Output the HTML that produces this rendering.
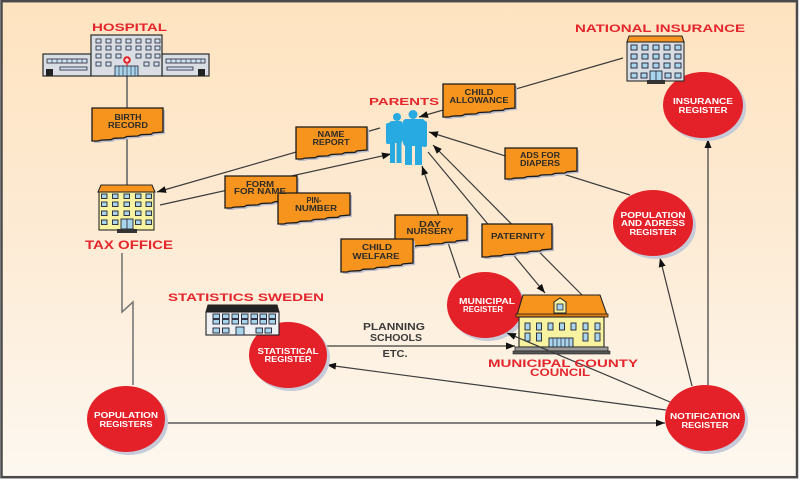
<!DOCTYPE html>
<html><head><meta charset="utf-8"><style>html,body{margin:0;padding:0;background:#fff;}svg{display:block}</style></head>
<body>
<svg width="800" height="480" viewBox="0 0 800 480" xmlns="http://www.w3.org/2000/svg" font-family="'Liberation Sans', sans-serif">
<defs>
<linearGradient id="bg" x1="0" y1="0" x2="0" y2="1">
<stop offset="0" stop-color="#fee3bf"/><stop offset="0.5" stop-color="#fdebd5"/><stop offset="1" stop-color="#fdf8f0"/>
</linearGradient>
<marker id="ar" markerWidth="9" markerHeight="7" refX="9" refY="3.5" orient="auto" markerUnits="userSpaceOnUse"><path d="M0,0 L9,3.5 L0,7 Z" fill="#111" stroke="none"/></marker>
</defs>
<rect x="0" y="0" width="800" height="480" fill="#fff"/>
<rect x="1.5" y="1.2" width="795.5" height="476" fill="url(#bg)" stroke="#4a4a4a" stroke-width="2.5"/>

<!-- connectors -->
<g stroke="#3c3c3c" stroke-width="1.2" fill="none">
<line x1="127" y1="76" x2="127" y2="185" stroke="#666" stroke-width="1.6"/>
<polyline points="122,253 122,312 133,302 133,385" stroke="#777" stroke-width="1.6"/>
<line x1="166" y1="423" x2="665" y2="423" marker-end="url(#ar)"/>
<line x1="708" y1="385" x2="708" y2="139" marker-end="url(#ar)"/>
<line x1="692" y1="386" x2="660" y2="258" marker-end="url(#ar)"/>
<line x1="630" y1="195" x2="429" y2="132" marker-end="url(#ar)"/>
<line x1="623" y1="58" x2="419" y2="117" marker-end="url(#ar)"/>
<line x1="380" y1="128" x2="157" y2="192" marker-end="url(#ar)"/>
<line x1="160" y1="205" x2="391" y2="154" marker-end="url(#ar)"/>
<line x1="460" y1="278" x2="422" y2="166" marker-end="url(#ar)"/>
<line x1="582" y1="295" x2="433" y2="145" marker-end="url(#ar)"/>
<line x1="428" y1="152" x2="545" y2="293" marker-end="url(#ar)"/>
<line x1="666" y1="410" x2="327" y2="365" marker-end="url(#ar)"/>
<line x1="327" y1="346" x2="515" y2="346" marker-end="url(#ar)"/>
</g>

<!-- document boxes -->
<g>
<g transform="translate(92,108)"><path transform="translate(2,2)" d="M0,0 H71 V24 L61,24.9 L59,26.3 L49,26.7 L46,28 L35,28.5 L32,29.9 L22,30.3 L19,31.7 L9,32.1 L6,33 L0,33 Z" fill="#bcbccb"/><path d="M0,0 H71 V24 L61,24.9 L59,26.3 L49,26.7 L46,28 L35,28.5 L32,29.9 L22,30.3 L19,31.7 L9,32.1 L6,33 L0,33 Z" fill="#f7941d" stroke="#1a1a1a" stroke-width="1.3"/></g>
<g transform="translate(443,84)"><path transform="translate(2,2)" d="M0,0 H72 V24 L62,24.9 L60,26.3 L50,26.7 L47,28 L36,28.5 L33,29.9 L22,30.3 L19,31.7 L9,32.1 L6,33 L0,33 Z" fill="#bcbccb"/><path d="M0,0 H72 V24 L62,24.9 L60,26.3 L50,26.7 L47,28 L36,28.5 L33,29.9 L22,30.3 L19,31.7 L9,32.1 L6,33 L0,33 Z" fill="#f7941d" stroke="#1a1a1a" stroke-width="1.3"/></g>
<g transform="translate(296,127)"><path transform="translate(2,2)" d="M0,0 H71 V23 L61,23.9 L59,25.3 L49,25.7 L46,27 L35,27.5 L32,28.9 L22,29.3 L19,30.7 L9,31.1 L6,32 L0,32 Z" fill="#bcbccb"/><path d="M0,0 H71 V23 L61,23.9 L59,25.3 L49,25.7 L46,27 L35,27.5 L32,28.9 L22,29.3 L19,30.7 L9,31.1 L6,32 L0,32 Z" fill="#f7941d" stroke="#1a1a1a" stroke-width="1.3"/></g>
<g transform="translate(505,148)"><path transform="translate(2,2)" d="M0,0 H72 V23 L62,23.8 L60,25 L50,25.4 L47,26.6 L36,27 L33,28.2 L22,28.6 L19,29.8 L9,30.2 L6,31 L0,31 Z" fill="#bcbccb"/><path d="M0,0 H72 V23 L62,23.8 L60,25 L50,25.4 L47,26.6 L36,27 L33,28.2 L22,28.6 L19,29.8 L9,30.2 L6,31 L0,31 Z" fill="#f7941d" stroke="#1a1a1a" stroke-width="1.3"/></g>
<g transform="translate(225,176)"><path transform="translate(2,2)" d="M0,0 H72 V23 L62,23.9 L60,25.3 L50,25.7 L47,27 L36,27.5 L33,28.9 L22,29.3 L19,30.7 L9,31.1 L6,32 L0,32 Z" fill="#bcbccb"/><path d="M0,0 H72 V23 L62,23.9 L60,25.3 L50,25.7 L47,27 L36,27.5 L33,28.9 L22,29.3 L19,30.7 L9,31.1 L6,32 L0,32 Z" fill="#f7941d" stroke="#1a1a1a" stroke-width="1.3"/></g>
<g transform="translate(278,193)"><path transform="translate(2,2)" d="M0,0 H72 V22 L62,22.9 L60,24.3 L50,24.7 L47,26 L36,26.5 L33,27.9 L22,28.3 L19,29.7 L9,30.1 L6,31 L0,31 Z" fill="#bcbccb"/><path d="M0,0 H72 V22 L62,22.9 L60,24.3 L50,24.7 L47,26 L36,26.5 L33,27.9 L22,28.3 L19,29.7 L9,30.1 L6,31 L0,31 Z" fill="#f7941d" stroke="#1a1a1a" stroke-width="1.3"/></g>
<g transform="translate(395,215)"><path transform="translate(2,2)" d="M0,0 H72 V25 L62,25.8 L60,27 L50,27.4 L47,28.6 L36,29 L33,30.2 L22,30.6 L19,31.8 L9,32.2 L6,33 L0,33 Z" fill="#bcbccb"/><path d="M0,0 H72 V25 L62,25.8 L60,27 L50,27.4 L47,28.6 L36,29 L33,30.2 L22,30.6 L19,31.8 L9,32.2 L6,33 L0,33 Z" fill="#f7941d" stroke="#1a1a1a" stroke-width="1.3"/></g>
<g transform="translate(341,239)"><path transform="translate(2,2)" d="M0,0 H72 V24 L62,24.9 L60,26.3 L50,26.7 L47,28 L36,28.5 L33,29.9 L22,30.3 L19,31.7 L9,32.1 L6,33 L0,33 Z" fill="#bcbccb"/><path d="M0,0 H72 V24 L62,24.9 L60,26.3 L50,26.7 L47,28 L36,28.5 L33,29.9 L22,30.3 L19,31.7 L9,32.1 L6,33 L0,33 Z" fill="#f7941d" stroke="#1a1a1a" stroke-width="1.3"/></g>
<g transform="translate(482,224)"><path transform="translate(2,2)" d="M0,0 H70 V25 L60,25.8 L58,27 L48,27.4 L45,28.6 L35,29 L32,30.2 L22,30.6 L19,31.8 L9,32.2 L6,33 L0,33 Z" fill="#bcbccb"/><path d="M0,0 H70 V25 L60,25.8 L58,27 L48,27.4 L45,28.6 L35,29 L32,30.2 L22,30.6 L19,31.8 L9,32.2 L6,33 L0,33 Z" fill="#f7941d" stroke="#1a1a1a" stroke-width="1.3"/></g>
</g>

<!-- box texts -->
<g font-size="8" font-weight="bold" fill="#2b2b2b" text-anchor="middle" lengthAdjust="spacingAndGlyphs">
<text x="128" y="120" textLength="27" lengthAdjust="spacingAndGlyphs">BIRTH</text>
<text x="128" y="128" textLength="40" lengthAdjust="spacingAndGlyphs">RECORD</text>
<text x="479" y="95" textLength="29" lengthAdjust="spacingAndGlyphs">CHILD</text>
<text x="479" y="103" textLength="59" lengthAdjust="spacingAndGlyphs">ALLOWANCE</text>
<text x="331" y="137" textLength="27" lengthAdjust="spacingAndGlyphs">NAME</text>
<text x="331" y="145" textLength="37" lengthAdjust="spacingAndGlyphs">REPORT</text>
<text x="540" y="158" textLength="40" lengthAdjust="spacingAndGlyphs">ADS FOR</text>
<text x="540" y="166" textLength="40" lengthAdjust="spacingAndGlyphs">DIAPERS</text>
<text x="260" y="187" textLength="28" lengthAdjust="spacingAndGlyphs">FORM</text>
<text x="260" y="194" textLength="52" lengthAdjust="spacingAndGlyphs">FOR NAME</text>
<text x="314" y="203" textLength="15" lengthAdjust="spacingAndGlyphs">PIN-</text>
<text x="316" y="211" textLength="42" lengthAdjust="spacingAndGlyphs">NUMBER</text>
<text x="430" y="227" textLength="22" lengthAdjust="spacingAndGlyphs">DAY</text>
<text x="430" y="234" textLength="47" lengthAdjust="spacingAndGlyphs">NURSERY</text>
<text x="377" y="250" textLength="30" lengthAdjust="spacingAndGlyphs">CHILD</text>
<text x="376" y="259" textLength="47" lengthAdjust="spacingAndGlyphs">WELFARE</text>
<text x="518" y="239" textLength="54" lengthAdjust="spacingAndGlyphs">PATERNITY</text>
</g>

<!-- planning text -->
<g font-size="10" font-weight="bold" fill="#3a3a3a" text-anchor="middle">
<text x="394" y="330" textLength="62" lengthAdjust="spacingAndGlyphs">PLANNING</text>
<text x="396" y="341" textLength="52" lengthAdjust="spacingAndGlyphs">SCHOOLS</text>
<text x="395" y="357" textLength="25" lengthAdjust="spacingAndGlyphs">ETC.</text>
</g>

<!-- circles -->
<g>
<ellipse cx="706" cy="108" rx="40" ry="33" fill="#c7cad9"/><ellipse cx="703" cy="105" rx="40" ry="33" fill="#e42128"/>
<ellipse cx="656" cy="226" rx="40" ry="33" fill="#c7cad9"/><ellipse cx="653" cy="223" rx="40" ry="33" fill="#e42128"/>
<ellipse cx="708" cy="421" rx="40" ry="33" fill="#c7cad9"/><ellipse cx="705" cy="418" rx="40" ry="33" fill="#e42128"/>
<ellipse cx="129" cy="422" rx="39" ry="33" fill="#c7cad9"/><ellipse cx="126" cy="419" rx="39" ry="33" fill="#e42128"/>
<ellipse cx="291" cy="358" rx="39" ry="33" fill="#c7cad9"/><ellipse cx="288" cy="355" rx="39" ry="33" fill="#e42128"/>
<ellipse cx="488" cy="308" rx="38" ry="33" fill="#c7cad9"/><ellipse cx="485" cy="305" rx="38" ry="33" fill="#e42128"/>
</g>
<g font-size="8" font-weight="bold" fill="#ffffff" text-anchor="middle">
<text x="703" y="104" textLength="60" lengthAdjust="spacingAndGlyphs">INSURANCE</text>
<text x="703" y="113" textLength="49" lengthAdjust="spacingAndGlyphs">REGISTER</text>
<text x="653" y="218" textLength="65" lengthAdjust="spacingAndGlyphs">POPULATION</text>
<text x="653" y="226" textLength="64" lengthAdjust="spacingAndGlyphs">AND ADRESS</text>
<text x="653" y="235" textLength="47" lengthAdjust="spacingAndGlyphs">REGISTER</text>
<text x="705" y="419" textLength="70" lengthAdjust="spacingAndGlyphs">NOTIFICATION</text>
<text x="705" y="428" textLength="47" lengthAdjust="spacingAndGlyphs">REGISTER</text>
<text x="126" y="418" textLength="64" lengthAdjust="spacingAndGlyphs">POPULATION</text>
<text x="126" y="427" textLength="53" lengthAdjust="spacingAndGlyphs">REGISTERS</text>
<text x="288" y="354" textLength="61" lengthAdjust="spacingAndGlyphs">STATISTICAL</text>
<text x="288" y="362" textLength="47" lengthAdjust="spacingAndGlyphs">REGISTER</text>
<text x="487" y="304" textLength="56" lengthAdjust="spacingAndGlyphs">MUNICIPAL</text>
<text x="483" y="312" textLength="40" lengthAdjust="spacingAndGlyphs">REGISTER</text>
</g>

<!-- hospital -->
<g stroke="#2a2a2a" stroke-width="1.2">
<rect x="43" y="54" width="48" height="22" fill="#d9dee4"/>
<rect x="162" y="54" width="47" height="22" fill="#d9dee4"/>
<rect x="91" y="35" width="71" height="41" fill="#d9dee4"/>
</g>
<g fill="#cfe0ee" stroke="#223" stroke-width="0.8">
<rect x="96" y="39" width="5" height="4"/><rect x="106" y="39" width="5" height="4"/><rect x="116" y="39" width="5" height="4"/><rect x="126" y="39" width="5" height="4"/><rect x="136" y="39" width="5" height="4"/><rect x="146" y="39" width="5" height="4"/><rect x="155" y="39" width="5" height="4"/>
<rect x="96" y="46" width="5" height="4"/><rect x="106" y="46" width="5" height="4"/><rect x="116" y="46" width="5" height="4"/><rect x="126" y="46" width="5" height="4"/><rect x="136" y="46" width="5" height="4"/><rect x="146" y="46" width="5" height="4"/><rect x="155" y="46" width="5" height="4"/>
<rect x="96" y="54" width="5" height="4"/><rect x="106" y="54" width="5" height="4"/><rect x="116" y="54" width="5" height="4"/><rect x="136" y="54" width="5" height="4"/><rect x="146" y="54" width="5" height="4"/><rect x="155" y="54" width="5" height="4"/>
<rect x="96" y="62" width="5" height="4"/><rect x="106" y="62" width="5" height="4"/><rect x="144" y="62" width="5" height="4"/><rect x="154" y="62" width="5" height="4"/>
<rect x="47" y="59" width="40" height="4"/><rect x="60" y="67" width="27" height="3"/>
<rect x="166" y="59" width="39" height="4"/><rect x="167" y="67" width="26" height="3"/>
<rect x="115" y="66" width="23" height="10" fill="#a8d4ec"/>
</g>
<g stroke="#223" stroke-width="0.6">
<line x1="52" y1="59" x2="52" y2="63"/><line x1="57" y1="59" x2="57" y2="63"/><line x1="62" y1="59" x2="62" y2="63"/><line x1="67" y1="59" x2="67" y2="63"/><line x1="72" y1="59" x2="72" y2="63"/><line x1="77" y1="59" x2="77" y2="63"/><line x1="82" y1="59" x2="82" y2="63"/>
<line x1="171" y1="59" x2="171" y2="63"/><line x1="176" y1="59" x2="176" y2="63"/><line x1="181" y1="59" x2="181" y2="63"/><line x1="186" y1="59" x2="186" y2="63"/><line x1="191" y1="59" x2="191" y2="63"/><line x1="196" y1="59" x2="196" y2="63"/><line x1="201" y1="59" x2="201" y2="63"/>
<line x1="119" y1="66" x2="119" y2="76"/><line x1="123" y1="66" x2="123" y2="76"/><line x1="127" y1="66" x2="127" y2="76"/><line x1="131" y1="66" x2="131" y2="76"/><line x1="135" y1="66" x2="135" y2="76"/>
</g>
<rect x="46" y="69" width="7" height="7" fill="#222"/>
<rect x="198" y="69" width="7" height="7" fill="#222"/>
<circle cx="127" cy="60" r="3.8" fill="#e42128"/>
<path d="M125,60 H129 M127,58 V62" stroke="#fff" stroke-width="1.2"/>
<line x1="127" y1="63.8" x2="127" y2="66" stroke="#e42128" stroke-width="1.2"/>

<!-- tax office -->
<path d="M101,185 H152 L155,192 H98 Z" fill="#f7941d" stroke="#2a2a2a" stroke-width="1.1"/>
<rect x="99" y="192" width="55" height="38" fill="#f7f3a0" stroke="#2a2a2a" stroke-width="1.1"/>
<g fill="#a8d4ec" stroke="#223" stroke-width="0.9">
<rect x="101.5" y="194" width="5.5" height="4.5"/><rect x="112.5" y="194" width="5.5" height="4.5"/><rect x="124" y="194" width="5.5" height="4.5"/><rect x="135.5" y="194" width="5.5" height="4.5"/><rect x="146" y="194" width="5.5" height="4.5"/>
<rect x="101.5" y="202" width="5.5" height="4.5"/><rect x="112.5" y="202" width="5.5" height="4.5"/><rect x="124" y="202" width="5.5" height="4.5"/><rect x="135.5" y="202" width="5.5" height="4.5"/><rect x="146" y="202" width="5.5" height="4.5"/>
<rect x="101.5" y="211" width="5.5" height="4.5"/><rect x="112.5" y="211" width="5.5" height="4.5"/><rect x="124" y="211" width="5.5" height="4.5"/><rect x="135.5" y="211" width="5.5" height="4.5"/><rect x="146" y="211" width="5.5" height="4.5"/>
<rect x="101.5" y="220" width="5.5" height="4.5"/><rect x="112.5" y="220" width="5.5" height="4.5"/><rect x="135.5" y="220" width="5.5" height="4.5"/><rect x="146" y="220" width="5.5" height="4.5"/>
<rect x="121" y="219" width="12" height="10"/>
</g>
<line x1="127" y1="219" x2="127" y2="229" stroke="#223" stroke-width="0.8"/>
<rect x="117" y="229" width="20" height="4" fill="#333"/>

<!-- national insurance -->
<path d="M629,36 H682 L684,42 H627 Z" fill="#f7941d" stroke="#2a2a2a" stroke-width="1.1"/>
<rect x="627" y="42" width="57" height="39" fill="#d7dde3" stroke="#2a2a2a" stroke-width="1.1"/>
<g fill="#a8d4ec" stroke="#223" stroke-width="0.9">
<rect x="631" y="45" width="6" height="5"/><rect x="642" y="45" width="6" height="5"/><rect x="653" y="45" width="6" height="5"/><rect x="664" y="45" width="6" height="5"/><rect x="675" y="45" width="6" height="5"/>
<rect x="631" y="54" width="6" height="5"/><rect x="642" y="54" width="6" height="5"/><rect x="653" y="54" width="6" height="5"/><rect x="664" y="54" width="6" height="5"/><rect x="675" y="54" width="6" height="5"/>
<rect x="631" y="63" width="6" height="5"/><rect x="642" y="63" width="6" height="5"/><rect x="653" y="63" width="6" height="5"/><rect x="664" y="63" width="6" height="5"/><rect x="675" y="63" width="6" height="5"/>
<rect x="631" y="73" width="6" height="5"/><rect x="641" y="73" width="6" height="5"/><rect x="665" y="73" width="6" height="5"/><rect x="675" y="73" width="6" height="5"/>
<rect x="650" y="71" width="12" height="10"/>
</g>
<line x1="656" y1="71" x2="656" y2="81" stroke="#223" stroke-width="0.8"/>
<rect x="647" y="80" width="18" height="4" fill="#333"/>

<!-- statistics sweden -->
<path d="M208,305 H277 L279,312 H206 Z" fill="#222" stroke="#222"/>
<rect x="206" y="312" width="73" height="23" fill="#eef0f2" stroke="#222" stroke-width="1.1"/>
<g fill="#a8d4ec" stroke="#223" stroke-width="0.9">
<rect x="213" y="314" width="6.5" height="4.5"/><rect x="222.5" y="314" width="6.5" height="4.5"/><rect x="232" y="314" width="6.5" height="4.5"/><rect x="241.5" y="314" width="6.5" height="4.5"/><rect x="251" y="314" width="6.5" height="4.5"/><rect x="260" y="314" width="6.5" height="4.5"/><rect x="269" y="314" width="6.5" height="4.5"/>
<rect x="213" y="319.5" width="6.5" height="4.5"/><rect x="222.5" y="319.5" width="6.5" height="4.5"/><rect x="232" y="319.5" width="6.5" height="4.5"/><rect x="241.5" y="319.5" width="6.5" height="4.5"/><rect x="251" y="319.5" width="6.5" height="4.5"/><rect x="260" y="319.5" width="6.5" height="4.5"/><rect x="269" y="319.5" width="6.5" height="4.5"/>
<rect x="213" y="328" width="6.5" height="5"/><rect x="222.5" y="328" width="6.5" height="5"/><rect x="256" y="328" width="6.5" height="5"/><rect x="265" y="328" width="6.5" height="5"/>
<rect x="236" y="327" width="8" height="8"/>
</g>

<!-- municipal building -->
<path d="M523,295 H600 L607,315 H517 Z" fill="#f7941d" stroke="#222" stroke-width="1.1"/>
<rect x="516" y="314" width="92" height="3" fill="#e07d10" stroke="#222" stroke-width="0.8"/>
<rect x="519" y="317" width="85" height="30" fill="#f7f3a0" stroke="#222" stroke-width="1.1"/>
<path d="M554,313 V302 L560,298 L566,302 V313 Z" fill="#f7f3a0" stroke="#222" stroke-width="1"/>
<rect x="557" y="304" width="6" height="6" fill="#a8d4ec" stroke="#223" stroke-width="0.8"/>
<g fill="#a8d4ec" stroke="#223" stroke-width="0.9">
<rect x="525" y="323" width="5" height="7"/><rect x="536.5" y="323" width="5" height="7"/><rect x="548" y="323" width="5" height="7"/><rect x="559.5" y="323" width="5" height="7"/><rect x="571" y="323" width="5" height="7"/><rect x="583" y="323" width="5" height="7"/><rect x="595" y="323" width="5" height="7"/>
<rect x="525" y="333" width="5" height="8"/><rect x="536.5" y="333" width="5" height="8"/><rect x="583" y="333" width="5" height="8"/><rect x="595" y="333" width="5" height="8"/>
<rect x="549" y="338" width="24" height="9"/>
</g>
<g stroke="#223" stroke-width="0.7"><line x1="553" y1="338" x2="553" y2="347"/><line x1="557" y1="338" x2="557" y2="347"/><line x1="561" y1="338" x2="561" y2="347"/><line x1="565" y1="338" x2="565" y2="347"/><line x1="569" y1="338" x2="569" y2="347"/></g>
<rect x="515" y="347" width="93" height="4" fill="#999" stroke="#222" stroke-width="0.8"/>
<rect x="513" y="351" width="97" height="3" fill="#555" stroke="#222" stroke-width="0.6"/>

<line x1="670" y1="402" x2="507" y2="333" stroke="#3c3c3c" stroke-width="1.2" marker-end="url(#ar)"/>

<!-- parents -->
<g fill="#27a9e1">
<circle cx="397" cy="117" r="4"/>
<circle cx="413" cy="114.5" r="4.5"/>
<rect x="389" y="121" width="14" height="22" rx="3"/>
<rect x="386" y="123" width="5" height="21" rx="2"/>
<rect x="390" y="140" width="5" height="23"/>
<rect x="396.5" y="140" width="5" height="23"/>
<rect x="403" y="119" width="22" height="27" rx="3"/>
<rect x="422" y="121" width="5" height="26" rx="2"/>
<rect x="405" y="144" width="7" height="21"/>
<rect x="415" y="144" width="7" height="21"/>
</g>

<!-- red labels -->
<g font-weight="bold" fill="#e4262c" text-anchor="middle">
<text x="129.5" y="31" font-size="11" textLength="75" lengthAdjust="spacingAndGlyphs">HOSPITAL</text>
<text x="660" y="32" font-size="11" textLength="170" lengthAdjust="spacingAndGlyphs">NATIONAL INSURANCE</text>
<text x="404" y="105" font-size="10" textLength="70" lengthAdjust="spacingAndGlyphs">PARENTS</text>
<text x="129" y="249" font-size="12" textLength="88" lengthAdjust="spacingAndGlyphs">TAX OFFICE</text>
<text x="246" y="301" font-size="11" textLength="156" lengthAdjust="spacingAndGlyphs">STATISTICS SWEDEN</text>
<text x="563" y="367" font-size="11" textLength="150" lengthAdjust="spacingAndGlyphs">MUNICIPAL COUNTY</text>
<text x="560" y="376" font-size="11" textLength="60" lengthAdjust="spacingAndGlyphs">COUNCIL</text>
</g>
</svg>
</body></html>
